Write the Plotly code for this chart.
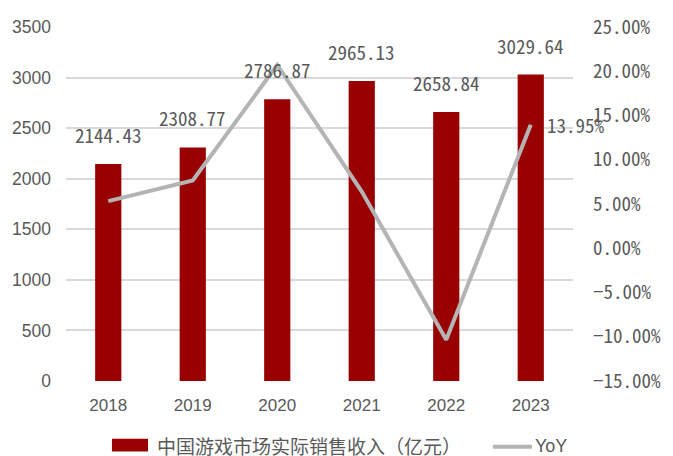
import plotly.graph_objects as go

# Annual data
years = ["2018", "2019", "2020", "2021", "2022", "2023"]
revenue = [2144.43, 2308.77, 2786.87, 2965.13, 2658.84, 3029.64]   # 亿元
yoy = [5.32, 7.66, 20.71, 6.40, -10.33, 13.95]                     # %
bar_name = "中国游戏市场实际销售收入（亿元）"
line_name = "YoY"

BAR_COLOR = "#990000"
LINE_COLOR = "#b4b4b4"
TEXT_COLOR = "#595959"
GRID_COLOR = "#d9d9d9"
CJK = "Noto Sans Mono CJK SC, Noto Sans CJK SC, sans-serif"
LATIN = "Liberation Sans, Arial, sans-serif"

fig = go.Figure()
fig.add_trace(go.Bar(
    x=years, y=revenue, name=bar_name, marker=dict(color=BAR_COLOR, line=dict(width=0)),
    yaxis="y", showlegend=False,
))
fig.add_trace(go.Scatter(
    x=years, y=yoy, name=line_name, mode="lines",
    line=dict(color=LINE_COLOR, width=4), yaxis="y2", showlegend=False,
))

annotations = []
# value labels above bars (x given as category index)
for i, v in enumerate(revenue):
    annotations.append(dict(
        x=i, y=v, xref="x", yref="y", text=f"{v:.2f}", showarrow=False,
        yanchor="bottom", yshift=14, font=dict(family=CJK, size=19, color=TEXT_COLOR),
    ))
# last YoY value label
annotations.append(dict(
    x=len(years) - 1, y=yoy[-1], xref="x", yref="y2", text=f"{yoy[-1]:.2f}%",
    showarrow=False, xanchor="left", yanchor="middle", xshift=14,
    font=dict(family=CJK, size=19, color=TEXT_COLOR),
))

# custom legend below the plot
legend_y = -0.183
annotations.append(dict(
    x=0.175, y=legend_y, xref="paper", yref="paper", text=bar_name, showarrow=False,
    xanchor="left", yanchor="middle", font=dict(family=CJK, size=19, color=TEXT_COLOR),
))
annotations.append(dict(
    x=0.922, y=legend_y, xref="paper", yref="paper", text=line_name, showarrow=False,
    xanchor="left", yanchor="middle", font=dict(family=LATIN, size=18, color=TEXT_COLOR),
))
shapes = [
    dict(type="rect", xref="paper", yref="paper", x0=0.0906, x1=0.1618,
         y0=-0.1994, y1=-0.1634, fillcolor=BAR_COLOR, line=dict(width=0)),
    dict(type="line", xref="paper", yref="paper", x0=0.842, x1=0.919,
         y0=-0.186, y1=-0.186, line=dict(color=LINE_COLOR, width=4)),
]

fig.update_layout(
    width=673, height=456,
    margin=dict(l=66, r=88, t=20, b=75),
    paper_bgcolor="white", plot_bgcolor="white",
    bargap=0.69,
    xaxis=dict(
        type="category", range=[-0.5, len(years) - 0.5], autorange=False,
        showgrid=False, zeroline=False, showline=False, ticks="",
        tickfont=dict(family=LATIN, size=17, color=TEXT_COLOR), ticklabelstandoff=12,
    ),
    yaxis=dict(
        range=[0, 3500], autorange=False, dtick=500, showgrid=True,
        gridcolor=GRID_COLOR, gridwidth=1.5, zeroline=False, showline=False, ticks="",
        tickfont=dict(family=LATIN, size=17.5, color=TEXT_COLOR), ticklabelstandoff=14,
    ),
    yaxis2=dict(
        range=[-15, 25], autorange=False, dtick=5, overlaying="y", side="right",
        showgrid=False, zeroline=False, showline=False, ticks="", tickformat=".2f",
        ticksuffix="%", tickfont=dict(family=CJK, size=19, color=TEXT_COLOR),
        ticklabelstandoff=19,
    ),
    annotations=annotations,
    shapes=shapes,
    showlegend=False,
)

fig.write_html("out.html")
